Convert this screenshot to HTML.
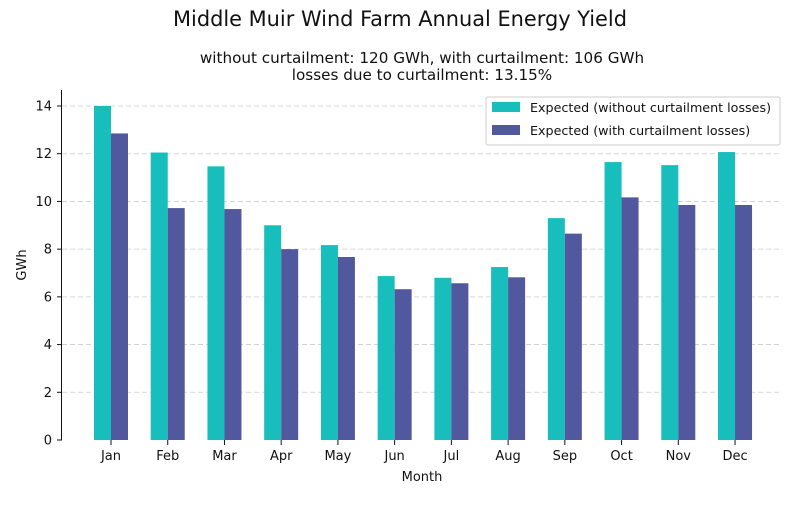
<!DOCTYPE html>
<html><head><meta charset="utf-8"><style>body{margin:0;background:#fff}svg text{font-family:"DejaVu Sans","Liberation Sans",sans-serif}</style></head>
<body>
<svg id="c" width="800" height="500" viewBox="0 0 800 500">
<text x="400" y="26" text-anchor="middle" font-size="20.9" fill="#111">Middle Muir Wind Farm Annual Energy Yield</text>
<text x="422" y="63" text-anchor="middle" font-size="15.2" fill="#111">without curtailment: 120 GWh, with curtailment: 106 GWh</text>
<text x="422" y="80" text-anchor="middle" font-size="15.2" fill="#111">losses due to curtailment: 13.15%</text>
<g id="grid"></g><g id="bars"></g><g id="axes"></g>
<text x="422" y="481" text-anchor="middle" font-size="13" fill="#111">Month</text>
<text transform="translate(26,265) rotate(-90)" text-anchor="middle" font-size="13" fill="#111">GWh</text>
<g>
<rect x="486" y="97" width="294" height="48" fill="#fff" stroke="#ccc" rx="2"/>
<rect x="492" y="102" width="28" height="10" fill="#17bebb"/>
<text x="530" y="112" font-size="12.7" fill="#111">Expected (without curtailment losses)</text>
<rect x="492" y="125" width="28" height="10" fill="#52589d"/>
<text x="530" y="135" font-size="12.7" fill="#111">Expected (with curtailment losses)</text>
</g>
</svg>
<script>
const months=["Jan","Feb","Mar","Apr","May","Jun","Jul","Aug","Sep","Oct","Nov","Dec"];
const without=[14.0,12.05,11.47,9.0,8.17,6.87,6.8,7.25,9.3,11.65,11.52,12.07];
const withC=[12.85,9.72,9.68,8.0,7.67,6.32,6.57,6.82,8.65,10.17,9.85,9.85];
const yTicks=[0,2,4,6,8,10,12,14];
const NS="http://www.w3.org/2000/svg";
const y=v=>440-v*(334/14);
const x=i=>111+i*56.73;
const bw=17;
function mk(p,t,a){const e=document.createElementNS(NS,t);for(const k in a)e.setAttribute(k,a[k]);document.getElementById(p).appendChild(e);return e;}
yTicks.forEach(t=>{
  if(t>0){const g=mk("grid","line",{x1:62,x2:780,y1:y(t),y2:y(t),stroke:"#ccc","stroke-dasharray":"5,3","stroke-width":0.8});
  
  }
  const tk=mk("axes","line",{x1:57,x2:62,y1:y(t),y2:y(t),stroke:"#111"});
  
  
  const l=mk("axes","text",{x:52,y:y(t)+4.5,"text-anchor":"end","font-size":13,fill:"#111"});l.textContent=t;
  
  
});
const sp=mk("axes","line",{x1:61.5,x2:61.5,y1:90,y2:440,stroke:"#111"});


months.forEach((m,i)=>{
  const a=mk("bars","rect",{x:x(i)-bw,y:y(without[i]),width:bw,height:440-y(without[i]),fill:"#17bebb"});
  
  
  const b=mk("bars","rect",{x:x(i),y:y(withC[i]),width:bw,height:440-y(withC[i]),fill:"#52589d"});
  
  
  const tk=mk("axes","line",{x1:x(i),x2:x(i),y1:440,y2:445,stroke:"#111"});
  
  
  const l=mk("axes","text",{x:x(i),y:460,"text-anchor":"middle","font-size":13,fill:"#111"});l.textContent=m;
  
  
});
</script>
</body></html>
